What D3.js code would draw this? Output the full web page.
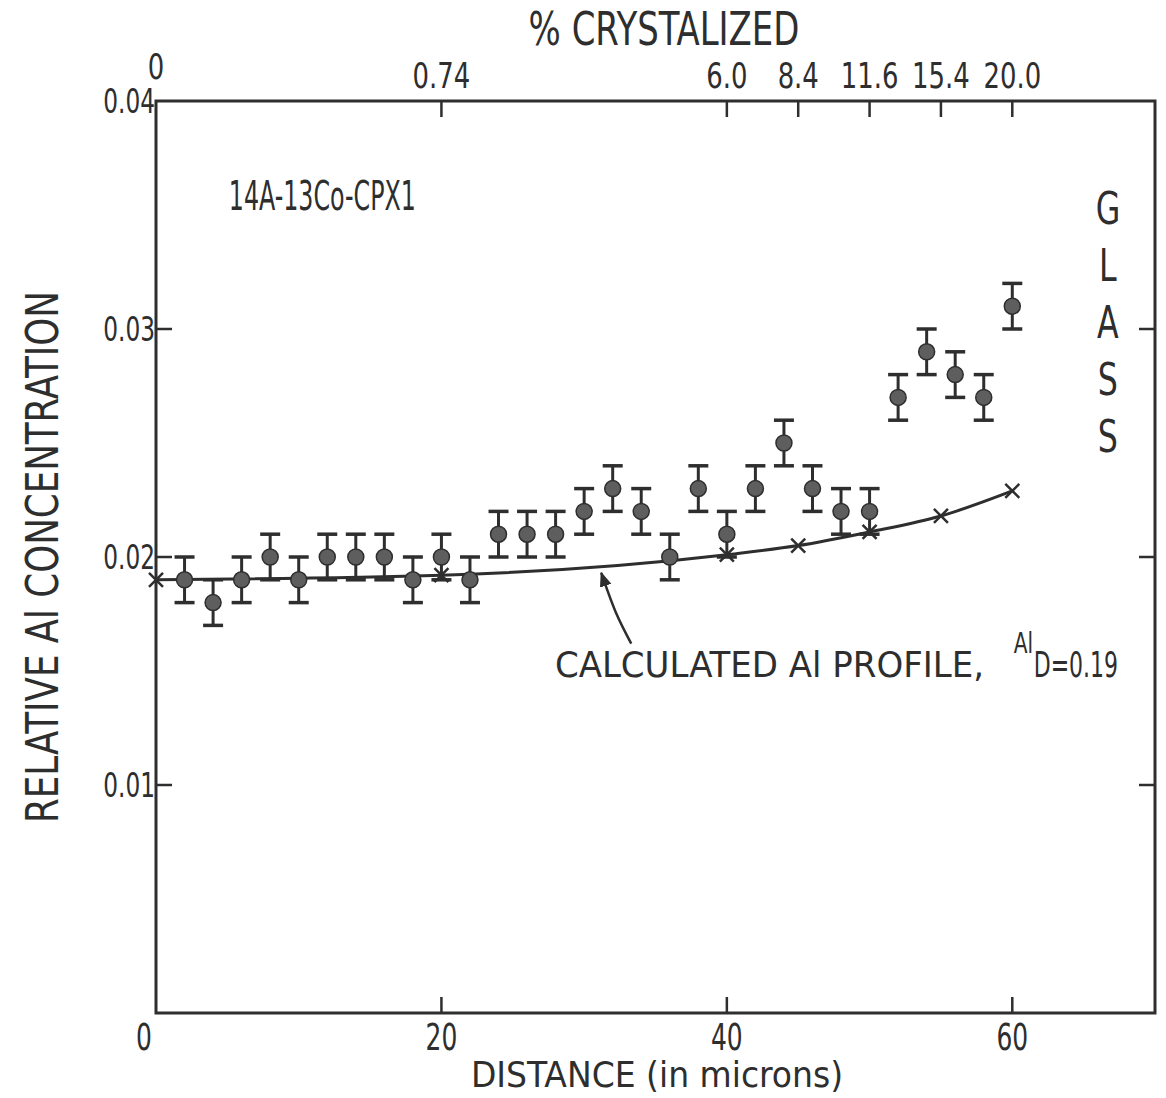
<!DOCTYPE html>
<html>
<head>
<meta charset="utf-8">
<script src="https://cdn.jsdelivr.net/npm/d3@7"></script>
<style>
  body { margin: 0; background: #fff; }
  svg { display: block; }
  text { font-family: "DejaVu Sans Condensed", "Liberation Sans Narrow", "DejaVu Sans", sans-serif; fill: #2e2e2e; }
</style>
</head>
<body>
<svg id="chart"></svg>
<script>
// measured points (distance in microns, relative Al)
const distance = [2, 4, 6, 8, 10, 12, 14, 16, 18, 20, 22, 24, 26, 28, 30, 32, 34, 36, 38, 40, 42, 44, 46, 48, 50, 52, 54, 56, 58, 60];
const alConc = [0.019, 0.018, 0.019, 0.020, 0.019, 0.020, 0.020, 0.020, 0.019, 0.020, 0.019, 0.021, 0.021, 0.021, 0.022, 0.023, 0.022, 0.020, 0.023, 0.021, 0.023, 0.025, 0.023, 0.022, 0.022, 0.027, 0.029, 0.028, 0.027, 0.031];
const errBar = 0.001;

// calculated profile
const calcDist = [0, 20, 40, 45, 50, 55, 60];
const calcAl = [0.0190, 0.0192, 0.0201, 0.0205, 0.0211, 0.0218, 0.0229];

// axes
const xTicks = [0, 20, 40, 60];
const yTicks = [0.01, 0.02, 0.03, 0.04];
const topTicks = [0, 20, 40, 45, 50, 55, 60];
const topLabels = ['0', '0.74', '6.0', '8.4', '11.6', '15.4', '20.0'];

// arrow from annotation to curve
const arrowDist = [33.3, 32.2, 31.2];
const arrowAl = [0.0162, 0.0176, 0.0193];

const W = 1166, H = 1098;
const margin = { top: 101, right: 11, bottom: 85, left: 156 };
const width = W - margin.left - margin.right;
const height = H - margin.top - margin.bottom;
const ink = '#2e2e2e';

const svg = d3.select('#chart')
    .attr('width', W)
    .attr('height', H);

const g = svg.append('g')
    .attr('transform', `translate(${margin.left},${margin.top})`);

//set up scaling
const xscale = d3.scaleLinear().domain([0, 70]).range([0, width]);
const yscale = d3.scaleLinear().domain([0, 0.04]).range([height, 0]);

// lettering is tall and narrow, so squeeze the glyphs sideways
function label(parent, x, y, str, size, sx, anchor, rot) {
    return parent.append('text')
        .attr('transform', `translate(${x},${y})${rot ? ' rotate(' + rot + ')' : ''} scale(${sx},1)`)
        .attr('text-anchor', anchor || 'start')
        .style('font-size', size + 'px')
        .text(str);
}

//frame
g.append('rect')
    .attr('width', width)
    .attr('height', height)
    .attr('fill', 'none')
    .attr('stroke', ink)
    .attr('stroke-width', 3);

//ticks, all pointing inwards
const tl = 16;
g.selectAll('.tb').data(xTicks.slice(1)).enter().append('line')
    .attr('x1', d => xscale(d)).attr('x2', d => xscale(d))
    .attr('y1', height).attr('y2', height - tl)
    .attr('stroke', ink).attr('stroke-width', 2.5);
g.selectAll('.tt').data(topTicks.slice(1)).enter().append('line')
    .attr('x1', d => xscale(d)).attr('x2', d => xscale(d))
    .attr('y1', 0).attr('y2', tl)
    .attr('stroke', ink).attr('stroke-width', 2.5);
g.selectAll('.tl').data(yTicks.slice(0, 3)).enter().append('line')
    .attr('x1', 0).attr('x2', tl)
    .attr('y1', d => yscale(d)).attr('y2', d => yscale(d))
    .attr('stroke', ink).attr('stroke-width', 2.5);
g.selectAll('.tr').data(yTicks.slice(0, 3)).enter().append('line')
    .attr('x1', width).attr('x2', width - tl)
    .attr('y1', d => yscale(d)).attr('y2', d => yscale(d))
    .attr('stroke', ink).attr('stroke-width', 2.5);

//tick labels
xTicks.forEach(d => label(g, xscale(d) - (d === 0 ? 12 : 0), height + 37, d, 37, 0.75, 'middle'));
yTicks.forEach(d => label(g, -1, yscale(d) + 12, d3.format('.2f')(d), 34, 0.76, 'end'));
topTicks.forEach((d, i) => label(g, xscale(d), i === 0 ? -22 : -13, topLabels[i], 36, 0.8, 'middle'));

//axis titles
label(svg, 664, 45, '% CRYSTALIZED', 46, 0.82, 'middle');
label(svg, 657, 1087, 'DISTANCE (in microns)', 36, 1.02, 'middle');
label(svg, 58, 557, 'RELATIVE Al CONCENTRATION', 45, 0.88, 'middle', -90);

//sample label
label(g, xscale(5.1), yscale(0.0352), '14A-13Co-CPX1', 40, 0.66);

//GLASS, stacked letters
'GLASS'.split('').forEach((c, i) => label(g, xscale(66.7), yscale(0.0346) + i * 57, c, 44, 0.8, 'middle'));

//calculated profile
const line = d3.line()
    .x(d => xscale(d[0]))
    .y(d => yscale(d[1]))
    .curve(d3.curveMonotoneX);
const calc = calcDist.map((d, i) => [d, calcAl[i]]);
g.append('path')
    .datum(calc)
    .attr('d', line)
    .attr('fill', 'none')
    .attr('stroke', ink)
    .attr('stroke-width', 3);
const xm = 7;
g.selectAll('.xm').data(calc).enter().append('path')
    .attr('d', d => {
        const cx = xscale(d[0]), cy = yscale(d[1]);
        return `M${cx - xm},${cy - xm}L${cx + xm},${cy + xm}M${cx - xm},${cy + xm}L${cx + xm},${cy - xm}`;
    })
    .attr('stroke', ink)
    .attr('stroke-width', 2.5);

//data with error bars
const pts = distance.map((d, i) => [d, alConc[i]]);
const cap = 10;
const eb = g.selectAll('.pt').data(pts).enter().append('g');
eb.append('line')
    .attr('x1', d => xscale(d[0])).attr('x2', d => xscale(d[0]))
    .attr('y1', d => yscale(d[1] + errBar)).attr('y2', d => yscale(d[1] - errBar))
    .attr('stroke', ink).attr('stroke-width', 3);
eb.append('line')
    .attr('x1', d => xscale(d[0]) - cap).attr('x2', d => xscale(d[0]) + cap)
    .attr('y1', d => yscale(d[1] + errBar)).attr('y2', d => yscale(d[1] + errBar))
    .attr('stroke', ink).attr('stroke-width', 3.5);
eb.append('line')
    .attr('x1', d => xscale(d[0]) - cap).attr('x2', d => xscale(d[0]) + cap)
    .attr('y1', d => yscale(d[1] - errBar)).attr('y2', d => yscale(d[1] - errBar))
    .attr('stroke', ink).attr('stroke-width', 3.5);
eb.append('circle')
    .attr('cx', d => xscale(d[0]))
    .attr('cy', d => yscale(d[1]))
    .attr('r', 8)
    .attr('fill', '#5e5e5e')
    .attr('stroke', ink)
    .attr('stroke-width', 1.5);

//annotation arrow
svg.append('defs').append('marker')
    .attr('id', 'ah')
    .attr('viewBox', '0 0 10 10')
    .attr('refX', 9).attr('refY', 5)
    .attr('markerWidth', 6).attr('markerHeight', 6)
    .attr('orient', 'auto')
    .append('path')
    .attr('d', 'M0,1L10,5L0,9Z')
    .attr('fill', ink);
const arrow = arrowDist.map((d, i) => [d, arrowAl[i]]);
g.append('path')
    .datum(arrow)
    .attr('d', d3.line().x(d => xscale(d[0])).y(d => yscale(d[1])).curve(d3.curveNatural))
    .attr('fill', 'none')
    .attr('stroke', ink)
    .attr('stroke-width', 2.5)
    .attr('marker-end', 'url(#ah)');

//annotation text: main words, superscript Al, then D value
label(g, xscale(27.95), yscale(0.01474), 'CALCULATED Al PROFILE,', 36, 1.05);
label(g, xscale(60.1), yscale(0.0158), 'Al', 28, 0.8);
label(g, xscale(61.5), yscale(0.01474), 'D=0.19', 36, 0.68);
</script>
</body>
</html>
